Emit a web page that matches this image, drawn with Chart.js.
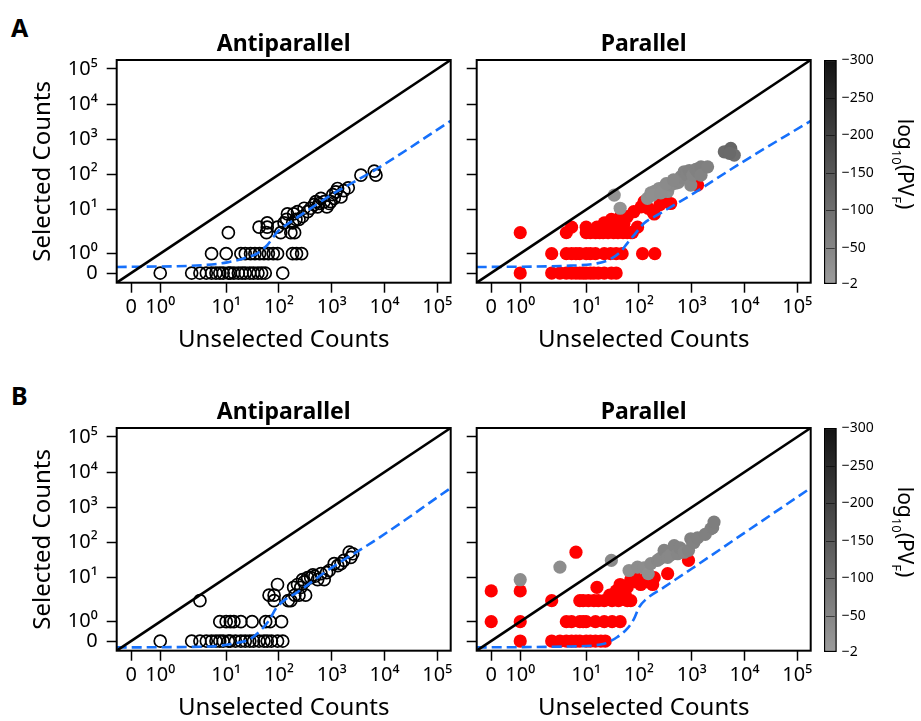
<!DOCTYPE html>
<html>
<head>
<meta charset="utf-8">
<script src="https://cdn.jsdelivr.net/npm/chart.js@4.4.1/dist/chart.umd.min.js"></script>
<style>
  html, body { margin: 0; padding: 0; background: #fff; }
  body { width: 921px; height: 721px; position: relative; overflow: hidden; font-family: "Noto Sans", sans-serif; }
  canvas { position: absolute; }
  .tag { position: absolute; font-weight: 700; font-size: 25px; line-height: 1; color: #000; }
</style>
</head>
<body>
<div class="tag" style="left:11px; top:15px;">A</div>
<div class="tag" style="left:11px; top:383px;">B</div>
<canvas id="aAnti" width="460" height="340" style="left:0px; top:20px;"></canvas>
<canvas id="aPar" width="460" height="340" style="left:360px; top:20px;"></canvas>
<canvas id="aBar" width="121" height="270" style="left:800px; top:40px;"></canvas>
<canvas id="bAnti" width="460" height="340" style="left:0px; top:388px;"></canvas>
<canvas id="bPar" width="460" height="340" style="left:360px; top:388px;"></canvas>
<canvas id="bBar" width="121" height="270" style="left:800px; top:408px;"></canvas>
<script>
// ---------- axis ticks ----------
const countTicks = [0, 1, 10, 100, 1000, 10000, 100000];
const countTickLabels = ['0', '10\u2070', '10\u00B9', '10\u00B2', '10\u00B3', '10\u2074', '10\u2075'];
const countMin = -0.5;
const countMax = 180000;
const cbTicks = [-300, -250, -200, -150, -100, -50, -2];
const cbMin = -300;
const cbMax = -2;

// ---------- A: antiparallel (open circles) ----------
const aAntiZeroX = [1, 3, 4, 5, 6, 7, 8, 9, 11, 12, 14, 17, 20, 23, 28, 33, 40, 47, 55, 118];
const aAntiOneX = [6, 10, 19, 23, 29, 35, 43, 52, 63, 78, 94, 181, 215, 269];
const aAntiX = [11, 42, 60, 60, 58, 94, 108, 168, 198, 140, 190, 182, 225, 210, 280, 300, 350, 500, 540, 625,
                720, 810, 900, 1115, 1200, 1290, 1500, 2060, 3580, 6400, 6900, 125, 145, 240, 400, 465, 580, 960, 1050, 1700];
const aAntiY = [3, 4, 5, 4, 3, 4, 3, 3, 3, 6, 8, 5, 9, 6, 7, 11, 9, 17, 12, 21,
                17, 12, 15, 21, 32, 40, 23, 42, 96, 125, 96, 5, 8, 6, 11, 14, 15, 17, 27, 35];
const aAntiFitX = [-0.5, 4.6, 10.5, 22, 39, 60, 94, 168, 400, 967, 7400, 190000];
const aAntiFitY = [0.31, 0.41, 0.55, 0.76, 1.02, 1.57, 3.16, 5.3, 10.9, 26, 149, 3530];

// ---------- A: parallel ----------
const aParZeroX = [1, 3, 4, 5, 6, 7, 8, 9, 10, 12, 14, 17, 22, 30, 37];
const aParOneX = [3, 5, 6, 7, 8, 10, 12, 15, 22, 29, 37, 48, 117, 200];
const aParThreeX = [1, 5, 10, 12, 15, 18, 21, 26, 33, 40, 50, 60, 75];
const aParRedX = [6, 10, 16, 22, 26, 41, 52, 60, 80, 94, 70, 125, 182, 195, 150, 325, 400, 1290, 30, 45, 110, 250];
const aParRedY = [4, 4, 4, 5, 4, 4, 5, 7, 9, 4, 3, 17, 9, 8, 11, 17, 15, 50, 6, 7, 12, 14];
const aParGrayX = [34, 44, 145, 168, 198, 240, 300, 350, 400, 500, 560, 625, 700, 720, 800, 900, 960, 1050, 1200, 1290,
                   1500, 1500, 2000, 4150, 5500, 6400, 5200, 180, 260, 330, 450];
const aParGrayY = [26, 11, 21, 30, 33, 40, 44, 33, 50, 57, 60, 87, 80, 120, 100, 130, 50, 96, 140, 120,
                   165, 96, 165, 443, 550, 355, 400, 26, 30, 55, 70];
const aParGrayLogP = [-25, -20, -30, -32, -35, -35, -35, -30, -40, -40, -45, -50, -50, -55, -55, -60, -45, -50, -60, -60,
                      -65, -55, -60, -110, -120, -100, -110, -30, -32, -38, -45];
const aParFitX = [-0.5, 5.8, 16, 29, 45, 60, 81, 125, 225, 960, 7400, 190000];
const aParFitY = [0.31, 0.38, 0.5, 0.72, 1.11, 1.72, 2.65, 4.9, 7.6, 26, 185, 3520];

// ---------- B: antiparallel (open circles) ----------
const bAntiZeroX = [1, 3, 4, 5, 6, 7, 8, 9, 11, 12, 15, 19, 23, 28, 33, 42, 52, 60, 72, 94, 118];
const bAntiOneX = [8, 10, 12, 14, 19, 31, 56, 68, 112];
const bAntiX = [4, 65, 81, 81, 94, 168, 190, 225, 240, 280, 320, 350, 400, 440, 540, 625, 720, 900, 1115, 1500,
                1700, 2150, 2300, 2500, 150, 200, 260, 300, 480, 800, 1300];
const bAntiY = [3, 4, 4, 3, 7, 3, 6, 7, 4, 9, 4, 10, 10, 12, 9, 13, 9, 16, 25, 25,
                31, 53, 38, 48, 3, 4, 6, 8, 11, 14, 22];
const bAntiFitX = [-0.5, 5.8, 16, 29, 45, 65, 87, 125, 225, 830, 7400, 190000];
const bAntiFitY = [-0.33, -0.28, -0.1, 0.12, 0.55, 1.07, 1.97, 3.05, 4.7, 16, 128, 3750];

// ---------- B: parallel ----------
const bParZeroX = [1, 3, 4, 5, 6, 7, 8, 10, 12, 15, 19, 23];
const bParOneX = [0, 1, 5, 6, 8, 9, 10, 15, 22, 31, 44];
const bParThreeX = [3, 8, 9, 11, 14, 17, 22, 31, 41, 60, 70];
const bParRedX = [0, 1, 7, 16, 44, 37, 55, 81, 108, 125, 182, 195, 350, 870, 60, 70, 28, 90, 150];
const bParRedY = [5, 5, 53, 6, 7, 5, 4, 13, 7, 9, 7, 10, 13, 31, 6, 9, 4, 8, 8];
const bParGrayX = [1, 4, 30, 65, 94, 125, 150, 168, 225, 250, 300, 350, 400, 465, 540, 600, 720, 870, 960, 1100,
                   1290, 1800, 2300, 2500, 2650];
const bParGrayY = [9, 20, 31, 16, 20, 19, 13, 25, 31, 35, 60, 38, 45, 82, 48, 70, 53, 60, 128, 100,
                   135, 170, 245, 265, 380];
const bParGrayLogP = [-35, -35, -40, -30, -35, -35, -30, -40, -45, -45, -55, -45, -45, -55, -50, -55, -50, -55, -60, -58,
                      -60, -62, -62, -64, -66];
const bParFitX = [-0.5, 5.8, 22, 39, 60, 81, 101, 135, 300, 1000, 10000, 190000];
const bParFitY = [-0.33, -0.28, -0.14, 0.21, 0.64, 1.17, 2.15, 3.2, 6.1, 18, 188, 3750];

// ---------- helpers ----------
const FONT = '"Noto Sans", "Open Sans", sans-serif';
const RED = '#ff0000';
const FIT_BLUE = '#1670fb';

function pairs(xs, ys) { return xs.map((x, i) => ({ x: x, y: ys[i] })); }
function row(xs, yv) { return xs.map(x => ({ x: x, y: yv })); }

// grey ramp used by the colour bar and the significant points
function cmapGray(v) {
  const t = Math.min(1, Math.max(0, (v - cbMax) / (cbMin - cbMax)));
  const g = Math.round(156 - t * (156 - 18));
  return 'rgb(' + g + ',' + g + ',' + g + ')';
}

// count axis: linear between 0 and 1, stretched log between 1 and 10, log above
function countToT(v) {
  if (v < 1) return 0.55 * v;
  if (v < 10) return 0.55 + 1.25 * Math.log10(v);
  return 0.8 + Math.log10(v);
}
function tToCount(t) {
  if (t < 0.55) return t / 0.55;
  if (t < 1.8) return Math.pow(10, (t - 0.55) / 1.25);
  return Math.pow(10, t - 0.8);
}

class CountScale extends Chart.Scale {
  determineDataLimits() {
    this.min = this.options.min;
    this.max = this.options.max;
  }
  buildTicks() {
    return countTicks.map(v => ({ value: v }));
  }
  configure() {
    super.configure();
    this._tStart = countToT(this.min);
    this._tSpan = countToT(this.max) - this._tStart;
  }
  getLabelForValue(v) { return String(v); }
  getPixelForValue(v) {
    return this.getPixelForDecimal((countToT(v) - this._tStart) / this._tSpan);
  }
  getValueForPixel(p) {
    return tToCount(this._tStart + this.getDecimalForPixel(p) * this._tSpan);
  }
}
CountScale.id = 'counts';
CountScale.defaults = {};
Chart.register(CountScale);

// black frame round the plotting area
const framePlugin = {
  id: 'frame',
  afterDraw(chart) {
    const a = chart.chartArea;
    const ctx = chart.ctx;
    ctx.save();
    ctx.strokeStyle = '#000';
    ctx.lineWidth = 2;
    ctx.strokeRect(a.left, a.top, a.right - a.left, a.bottom - a.top);
    ctx.restore();
  }
};

function countAxis(position, showLabels, titleText) {
  const axis = {
    type: 'counts',
    position: position,
    min: countMin,
    max: countMax,
    border: { display: false },
    grid: { display: true, drawOnChartArea: false, drawTicks: true, tickLength: 10, tickWidth: 1.5, tickColor: '#000' },
    ticks: {
      display: showLabels,
      autoSkip: false,
      maxRotation: 0,
      minRotation: 0,
      padding: position === 'bottom' ? 3 : 9,
      color: '#000',
      font: { family: FONT, size: 20 },
      callback: (v, i) => countTickLabels[i]
    },
    title: { display: !!titleText, text: titleText || '', color: '#000', font: { family: FONT, size: 24 } }
  };
  if (position === 'bottom') {
    axis.title.padding = { top: 0, bottom: 5 };
    axis.afterFit = s => { s.height = 77.3; s.paddingLeft = 0; s.paddingRight = 0; };
  } else {
    axis.title.padding = { top: 29, bottom: 0 };
    axis.afterFit = s => { s.width = 116.7; s.paddingTop = 0; s.paddingBottom = 0; };
  }
  return axis;
}

function lineSets(fitX, fitY) {
  return [
    {
      data: [{ x: -1, y: -1 }, { x: 1e7, y: 1e7 }],
      showLine: true, borderColor: '#000', borderWidth: 2.6, pointRadius: 0
    },
    {
      data: pairs(fitX, fitY),
      showLine: true, borderColor: FIT_BLUE, borderWidth: 2.6, borderDash: [10, 5],
      cubicInterpolationMode: 'monotone', pointRadius: 0
    }
  ];
}

function panel(id, title, yLabels, datasets) {
  return new Chart(document.getElementById(id), {
    type: 'scatter',
    data: { datasets: datasets },
    options: {
      responsive: false,
      animation: false,
      events: [],
      layout: { padding: { left: 0, right: 9.3, top: 0, bottom: 0 } },
      scales: {
        x: countAxis('bottom', true, 'Unselected Counts'),
        y: countAxis('left', yLabels, yLabels ? 'Selected Counts' : '')
      },
      plugins: {
        legend: { display: false },
        tooltip: { enabled: false },
        title: {
          display: true, text: title, fullSize: false, color: '#000',
          font: { family: FONT, size: 23, weight: 'bold', lineHeight: 1.2 },
          padding: { top: 11, bottom: 1.4 }
        }
      }
    },
    plugins: [framePlugin]
  });
}

function openCircles(points) {
  return { data: points, pointRadius: 6, pointBorderWidth: 1.7, pointBorderColor: '#000',
           pointBackgroundColor: 'rgba(0,0,0,0)', showLine: false };
}
function filled(points, colors) {
  return { data: points, pointRadius: 6.6, pointBorderWidth: 0, pointBackgroundColor: colors,
           pointBorderColor: colors, showLine: false };
}

// ---------- panels ----------
panel('aAnti', 'Antiparallel', true, [
  ...lineSets(aAntiFitX, aAntiFitY),
  openCircles([].concat(row(aAntiZeroX, 0), row(aAntiOneX, 1), pairs(aAntiX, aAntiY)))
]);

panel('aPar', 'Parallel', false, [
  ...lineSets(aParFitX, aParFitY),
  filled(pairs(aParGrayX, aParGrayY), aParGrayLogP.map(cmapGray)),
  filled([].concat(row(aParZeroX, 0), row(aParOneX, 1), row(aParThreeX, 3), pairs(aParRedX, aParRedY)), RED)
]);

panel('bAnti', 'Antiparallel', true, [
  ...lineSets(bAntiFitX, bAntiFitY),
  openCircles([].concat(row(bAntiZeroX, 0), row(bAntiOneX, 1), pairs(bAntiX, bAntiY)))
]);

panel('bPar', 'Parallel', false, [
  ...lineSets(bParFitX, bParFitY),
  filled(pairs(bParGrayX, bParGrayY), bParGrayLogP.map(cmapGray)),
  filled([].concat(row(bParZeroX, 0), row(bParOneX, 1), row(bParThreeX, 3), pairs(bParRedX, bParRedY)), RED)
]);

// ---------- colour bars ----------
const cbMarksPlugin = {
  id: 'cbMarks',
  afterDatasetsDraw(chart) {
    const a = chart.chartArea;
    const y = chart.scales.y;
    const ctx = chart.ctx;
    ctx.save();
    ctx.strokeStyle = 'rgba(0,0,0,0.55)';
    ctx.lineWidth = 1;
    cbTicks.slice(1, -1).forEach(v => {
      const py = Math.round(y.getPixelForValue(v)) + 0.5;
      ctx.beginPath();
      ctx.moveTo(a.left + 2, py);
      ctx.lineTo(a.right - 2, py);
      ctx.stroke();
    });
    ctx.restore();
  }
};

// rotated colour-bar caption with subscripts: log10(PV_F)
const cbCaptionPlugin = {
  id: 'cbCaption',
  afterDraw(chart) {
    const ctx = chart.ctx;
    const parts = [
      { t: 'log', sub: false }, { t: '10', sub: true },
      { t: '(PV', sub: false }, { t: 'F', sub: true }, { t: ')', sub: false }
    ];
    const big = '21px ' + FONT;
    const small = '13px ' + FONT;
    ctx.save();
    let total = 0;
    parts.forEach(p => { ctx.font = p.sub ? small : big; p.w = ctx.measureText(p.t).width; total += p.w; });
    ctx.translate(98, 124);
    ctx.rotate(Math.PI / 2);
    ctx.fillStyle = '#000';
    ctx.textBaseline = 'alphabetic';
    let x = -total / 2;
    parts.forEach(p => {
      ctx.font = p.sub ? small : big;
      ctx.fillText(p.t, x, p.sub ? 6 : 0);
      x += p.w;
    });
    ctx.restore();
  }
};

function colourBar(id) {
  return new Chart(document.getElementById(id), {
    type: 'bar',
    data: {
      labels: [''],
      datasets: [{
        data: [[cbMin, cbMax]],
        backgroundColor: (c) => {
          const a = c.chart.chartArea;
          if (!a) return cmapGray(-150);
          const g = c.chart.ctx.createLinearGradient(0, a.top, 0, a.bottom);
          g.addColorStop(0, cmapGray(cbMin));
          g.addColorStop(1, cmapGray(cbMax));
          return g;
        },
        borderColor: '#000',
        borderWidth: 1.5,
        borderSkipped: false,
        barPercentage: 1,
        categoryPercentage: 1
      }]
    },
    options: {
      responsive: false,
      animation: false,
      events: [],
      layout: { padding: { left: 24, right: 0, top: 20, bottom: 26 } },
      scales: {
        x: { display: false },
        y: {
          position: 'right',
          reverse: true,
          min: cbMin,
          max: cbMax,
          afterBuildTicks: s => { s.ticks = cbTicks.map(v => ({ value: v })); },
          afterFit: s => { s.width = 84.3; s.paddingTop = 0; s.paddingBottom = 0; },
          grid: { display: false, drawTicks: false },
          border: { display: false },
          ticks: {
            padding: 5, color: '#000', autoSkip: false,
            font: { family: FONT, size: 14 },
            callback: v => '\u2212' + Math.abs(v)
          }
        }
      },
      plugins: { legend: { display: false }, tooltip: { enabled: false } }
    },
    plugins: [cbMarksPlugin, cbCaptionPlugin]
  });
}

colourBar('aBar');
colourBar('bBar');
</script>
</body>
</html>
